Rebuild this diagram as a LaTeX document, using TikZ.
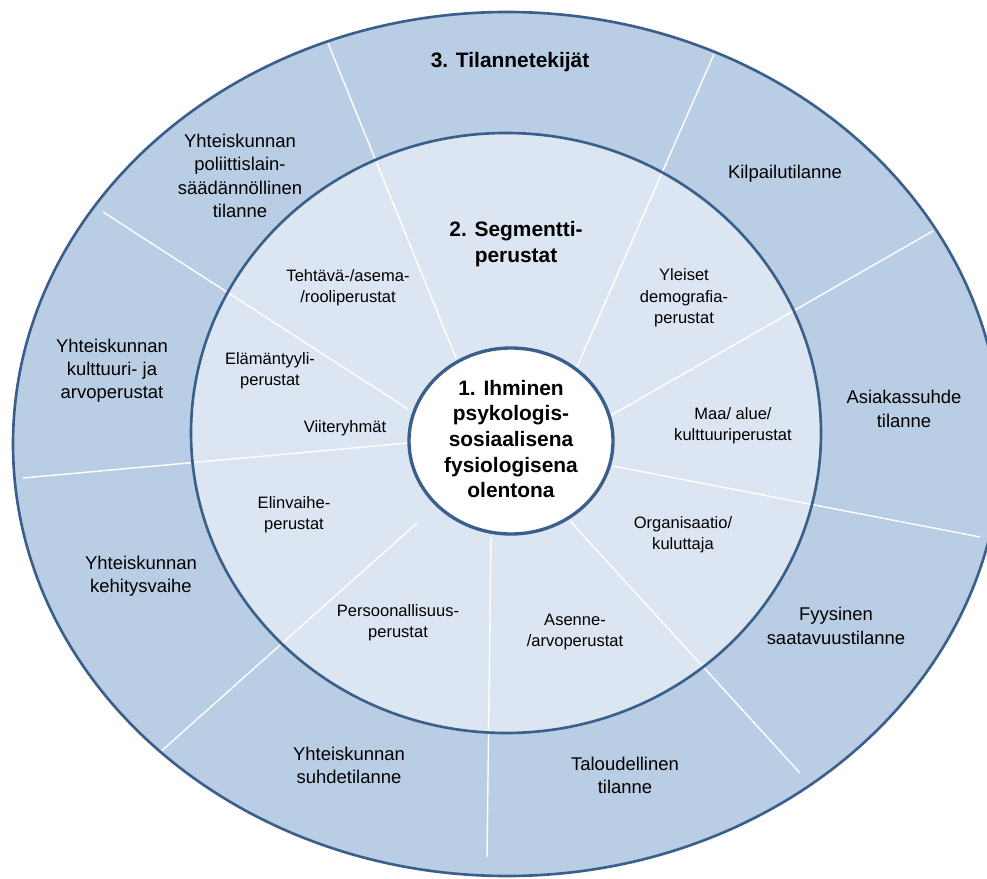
\documentclass[tikz,border=0pt]{standalone}
\usepackage{fontspec}
\setmainfont{Liberation Sans}
\usepackage{tikz}
\usetikzlibrary{arrows}

\definecolor{ringouter}{HTML}{B9CDE5}
\definecolor{ringmiddle}{HTML}{DCE6F2}
\definecolor{ringborder}{HTML}{3A5F8B}

\begin{document}
\begin{tikzpicture}[x=0.2mm, y=-0.2mm,
	spoke/.style={draw=white, line width=0.8pt},
	rim/.style={draw=ringborder, line width=1.5pt},
	outertext/.style={align=center, inner sep=0pt, font=\fontsize{10.5}{13.2}\selectfont},
	segtext/.style={align=center, inner sep=0pt, font=\fontsize{9.4}{12.2}\selectfont},
	headtext/.style={align=center, inner sep=0pt, font=\fontsize{11.9}{14.6}\selectfont\bfseries}]
	\useasboundingbox (0,0) rectangle (987,879);

	\fill[ringouter] (507,444) ellipse [x radius=494, y radius=432];
	\fill[ringmiddle] (506,433) ellipse [x radius=315, y radius=300];

	\draw[spoke] (456,358) -- (328,43);
	\draw[spoke] (577,367) -- (714,54);
	\draw[spoke] (610,416) -- (933,231);
	\draw[spoke] (613,466) -- (980,537);
	\draw[spoke] (570,521) -- (800,773);
	\draw[spoke] (491,537) -- (487,857);
	\draw[spoke] (417,523) -- (158,754);
	\draw[spoke] (408,443) -- (23,478);
	\draw[spoke] (408,409) -- (103,212);

	\draw[rim] (507,444) ellipse [x radius=494, y radius=432];
	\draw[rim] (506,433) ellipse [x radius=315, y radius=300];
	\draw[rim, line width=1.9pt, fill=white] (511,441) ellipse [x radius=102, y radius=93];

	\node[headtext] (ihminen) at (511,439) {1. Ihminen\\psykologis-\\sosiaalisena\\fysiologisena\\olentona};
	\node[headtext] (segmentti) at (516,244) {2. Segmentti-\\perustat};
	\node[headtext] (tilanne) at (510,62) {3. Tilannetekijät};

	\node[outertext] (poliittinen) at (240,176) {Yhteiskunnan\\poliittislain-\\säädännöllinen\\tilanne};
	\node[outertext] (kilpailu) at (785,174) {Kilpailutilanne};
	\node[outertext] (asiakassuhde) at (904,409) {Asiakassuhde\\tilanne};
	\node[outertext] (fyysinen) at (836,626) {Fyysinen\\saatavuustilanne};
	\node[outertext] (taloudellinen) at (625,775) {Taloudellinen\\tilanne};
	\node[outertext] (suhde) at (349,765) {Yhteiskunnan\\suhdetilanne};
	\node[outertext] (kehitys) at (141,576) {Yhteiskunnan\\kehitysvaihe};
	\node[outertext] (kulttuuri) at (112,371) {Yhteiskunnan\\kulttuuri- ja\\arvoperustat};

	\node[segtext] (tehtava) at (348,288) {Tehtävä-/asema-\\/rooliperustat};
	\node[segtext] (demografia) at (684,298) {Yleiset\\demografia-\\perustat};
	\node[segtext] (maa) at (733,426) {Maa/ alue/\\kulttuuriperustat};
	\node[segtext] (organisaatio) at (683,535) {Organisaatio/\\kuluttaja};
	\node[segtext] (asenne) at (575,632) {Asenne-\\/arvoperustat};
	\node[segtext] (persoona) at (398,623) {Persoonallisuus-\\perustat};
	\node[segtext] (elinvaihe) at (294,515) {Elinvaihe-\\perustat};
	\node[segtext] (viite) at (345,428) {Viiteryhmät};
	\node[segtext] (elamantyyli) at (270,371) {Elämäntyyli-\\perustat};
\end{tikzpicture}
\end{document}
